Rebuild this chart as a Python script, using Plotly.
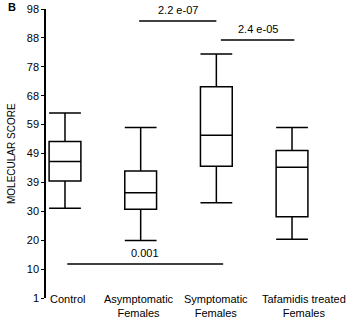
import plotly.graph_objects as go

# groups and box statistics
groups = ["Control", "Asymptomatic<br>Females", "Symptomatic<br>Females", "Tafamidis treated<br>Females"]
upper = [63.1, 58.2, 82.9, 58.2]
q3 = [53.5, 43.6, 71.9, 50.5]
median = [46.8, 36.3, 55.6, 44.9]
q1 = [40.3, 30.8, 45.2, 28.3]
lower = [31.1, 20.3, 33.0, 20.7]

# y axis labels as printed
tick_vals = [1, 10.7, 20.4, 30.1, 39.8, 49.5, 59.2, 68.9, 78.6, 88.3, 98]
tick_text = ["1", "10", "20", "30", "39", "49", "59", "68", "78", "88", "98"]

# significance brackets: label, from, to, height
p_labels = ["2.2 e-07", "2.4 e-05", "0.001"]
p_from = [0.98, 2.06, 0.03]
p_to = [2.0, 3.03, 2.09]
p_y = [94.0, 87.6, 12.4]

pos = list(range(len(groups)))
font = "Liberation Sans, Arial, sans-serif"

fig = go.Figure()
fig.add_trace(go.Box(
    x=pos, q1=q1, median=median, q3=q3, lowerfence=lower, upperfence=upper,
    width=0.42, whiskerwidth=1, fillcolor="white",
    line=dict(color="black", width=1.5), boxpoints=False, hoverinfo="skip",
))

for lab, a, b, yy in zip(p_labels, p_from, p_to, p_y):
    fig.add_shape(type="line", x0=a, x1=b, y0=yy, y1=yy,
                  line=dict(color="black", width=1.5))
    fig.add_annotation(x=(a + b) / 2, y=yy, text=lab, showarrow=False,
                       yanchor="bottom", yshift=3, font=dict(size=11, color="black"))

# the last label is nudged right in the original so it fits the page
label_nudge = [3, -2, 0, 12]
for p, g, dx in zip(pos, groups, label_nudge):
    fig.add_annotation(x=p, y=1, text=g, showarrow=False, yanchor="top", yshift=7,
                       xshift=dx, font=dict(size=11, color="black"))

fig.add_annotation(xref="paper", yref="paper", x=0, y=0.5, xshift=-42,
                   text="MOLECULAR SCORE", textangle=-90, showarrow=False,
                   font=dict(size=10, color="black"))
fig.add_annotation(xref="paper", yref="paper", x=0, y=1, xshift=-40, yshift=2,
                   text="<b>B</b>", showarrow=False, xanchor="left", yanchor="middle",
                   font=dict(size=11, color="black"))

fig.update_layout(
    width=348, height=319,
    margin=dict(l=46, r=8, t=9, b=21),
    paper_bgcolor="white", plot_bgcolor="white",
    showlegend=False,
    font=dict(family=font, size=11, color="black"),
    xaxis=dict(range=[-0.251, 3.634], showticklabels=False, showgrid=False,
               zeroline=False, showline=False, ticks="", automargin=False),
    yaxis=dict(range=[1, 98], tickvals=tick_vals, ticktext=tick_text,
               showgrid=False, zeroline=False, showline=True, linecolor="black",
               linewidth=1.5, ticks="outside", ticklen=3, tickwidth=1,
               tickcolor="black", tickfont=dict(size=11), automargin=False),
)

# drop the browser's default page margin so the figure sits at the window corner
fig.write_html("out.html", config={"displayModeBar": False},
               post_script="document.body.style.margin='0';")
